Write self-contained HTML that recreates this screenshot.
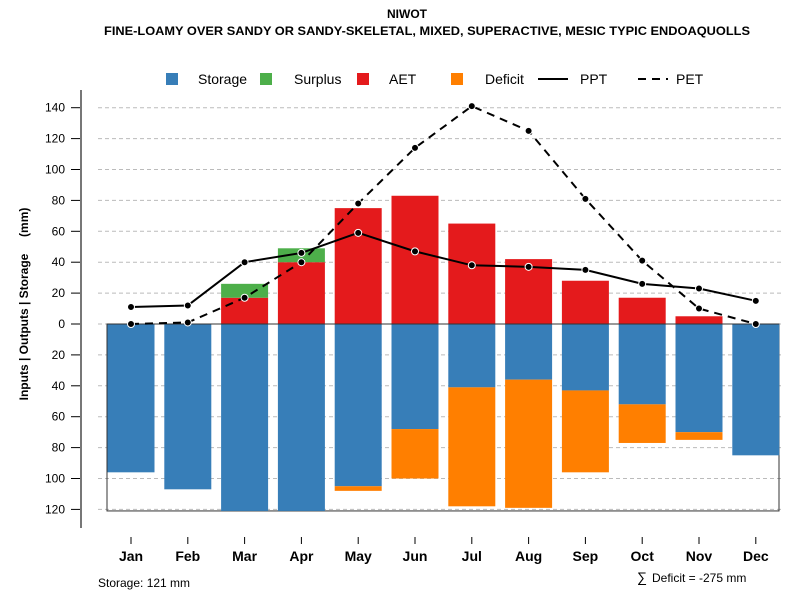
<!DOCTYPE html>
<html><head><meta charset="utf-8"><style>
body{margin:0;background:#fff;font-family:"Liberation Sans",sans-serif}
</style></head><body>
<svg id="c" width="800" height="600" xmlns="http://www.w3.org/2000/svg" font-family="Liberation Sans, sans-serif">
<text x="407" y="18" text-anchor="middle" font-size="12" font-weight="bold">NIWOT</text>
<text x="427" y="35" text-anchor="middle" font-size="12" font-weight="bold" textLength="646" lengthAdjust="spacingAndGlyphs">FINE-LOAMY OVER SANDY OR SANDY-SKELETAL, MIXED, SUPERACTIVE, MESIC TYPIC ENDOAQUOLLS</text>
<g font-size="14">
<rect x="166" y="73" width="12" height="12" fill="#377eb8"/><text x="198" y="84">Storage</text>
<rect x="260" y="73" width="12" height="12" fill="#4daf4a"/><text x="294" y="84">Surplus</text>
<rect x="357" y="73" width="12" height="12" fill="#e41a1c"/><text x="389" y="84">AET</text>
<rect x="451" y="73" width="12" height="12" fill="#ff7f00"/><text x="485" y="84">Deficit</text>
<line x1="538" y1="79" x2="568" y2="79" stroke="#000" stroke-width="2"/><text x="580" y="84">PPT</text>
<line x1="638" y1="79" x2="668" y2="79" stroke="#000" stroke-width="2" stroke-dasharray="8,6"/><text x="676" y="84">PET</text>
</g>
<text transform="translate(28,304) rotate(-90)" text-anchor="middle" font-size="12" font-weight="bold" xml:space="preserve" style="white-space:pre">Inputs | Outputs | Storage     (mm)</text>
<text x="98" y="587" font-size="12">Storage: 121 mm</text>
<text x="637" y="582" font-size="14">∑</text>
<text x="652" y="582" font-size="12">Deficit = -275 mm</text>
<g id="g"></g>
</svg>
<script>
const months=["Jan","Feb","Mar","Apr","May","Jun","Jul","Aug","Sep","Oct","Nov","Dec"];
const ppt=[11,12,40,46,59,47,38,37,35,26,23,15];
const pet=[0,1,17,40,78,114,141,125,81,41,10,0];
const aet=[0,0,17,40,75,83,65,42,28,17,5,0];
const surplus=[0,0,9,9,0,0,0,0,0,0,0,0];
const storage=[96,107,121,121,105,68,41,36,43,52,70,85];
const deficit=[0,0,0,0,3,32,77,83,53,25,5,0];
const upTicks=[0,20,40,60,80,100,120,140];
const downTicks=[20,40,60,80,100,120];
const NS="http://www.w3.org/2000/svg",g=document.getElementById("g");
const y0=324,k=1.545;
const yU=v=>y0-v*k, yD=v=>y0+v*k;
const xM=i=>131+i*56.8, bw=47;
function el(t,a){const e=document.createElementNS(NS,t);for(const n in a)e.setAttribute(n,a[n]);g.appendChild(e);return e;}
upTicks.forEach(v=>{const y=yU(v);
 const l=el("line",{x1:98,x2:782,y1:y,y2:y,stroke:"#bbb","stroke-dasharray":"4,3"});
 
 
 el("line",{x1:71,x2:81,y1:y,y2:y,stroke:"#000"});
 const t=el("text",{x:65,y:y+4,"text-anchor":"end","font-size":12});t.textContent=v;
 
 });
downTicks.forEach(v=>{const y=yD(v);
 const l=el("line",{x1:98,x2:782,y1:y,y2:y,stroke:"#bbb","stroke-dasharray":"4,3"});
 
 
 el("line",{x1:71,x2:81,y1:y,y2:y,stroke:"#000"});
 const t=el("text",{x:65,y:y+4,"text-anchor":"end","font-size":12});t.textContent=v;
 
 });
const ax=el("line",{x1:81,x2:81,y1:90,y2:528,stroke:"#777","stroke-width":2});


const bx=el("rect",{x:107,y:y0,width:672,height:121*k,fill:"none",stroke:"#333"});


months.forEach((m,i)=>{const x=xM(i),l=x-bw/2;
 const s=el("rect",{x:l,y:y0,width:bw,height:storage[i]*k,fill:"#377eb8"});
 
 
 if(deficit[i]>0){const d=el("rect",{x:l,y:yD(storage[i]),width:bw,height:deficit[i]*k,fill:"#ff7f00"});
  
  }
 if(aet[i]>0){const a=el("rect",{x:l,y:yU(aet[i]),width:bw,height:aet[i]*k,fill:"#e41a1c"});
  
  }
 if(surplus[i]>0){const u=el("rect",{x:l,y:yU(aet[i]+surplus[i]),width:bw,height:surplus[i]*k,fill:"#4daf4a"});
  
  }
 el("line",{x1:x,x2:x,y1:537,y2:544,stroke:"#000"});
 const t=el("text",{x:x,y:561,"text-anchor":"middle","font-size":14,"font-weight":"bold"});t.textContent=m;
 
 
});
el("line",{x1:107,x2:779,y1:y0,y2:y0,stroke:"#333"});
function series(arr,dash,name){
 const p=el("polyline",{points:arr.map((v,i)=>xM(i)+","+yU(v)).join(" "),fill:"none",stroke:"#000","stroke-width":2,"stroke-dasharray":dash});
 
 
 arr.forEach((v,i)=>{const c=el("circle",{cx:xM(i),cy:yU(v),r:3.5,fill:"#000",stroke:"#fff","stroke-width":1});
  
  });
}
series(pet,"8,6","pet");
series(ppt,"none","ppt");
</script>
</body></html>
